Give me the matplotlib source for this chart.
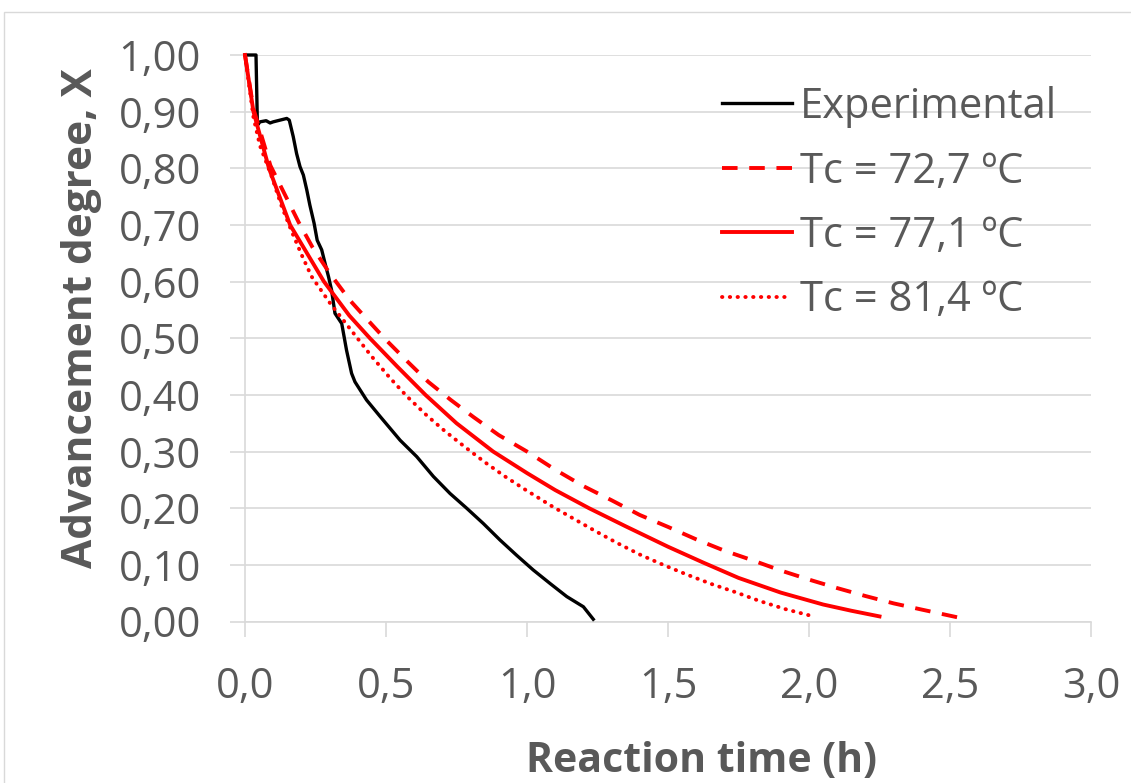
import matplotlib
matplotlib.use("Agg")
import matplotlib.pyplot as plt
from matplotlib.patches import Rectangle

# Experimental conversion curve
exp_t = [0.0, 0.039, 0.044, 0.053, 0.075, 0.089, 0.100, 0.124, 0.148, 0.157,
         0.171, 0.183, 0.195, 0.207, 0.219, 0.230, 0.245, 0.256, 0.272, 0.284,
         0.296, 0.307, 0.319, 0.343, 0.360, 0.378, 0.390, 0.431, 0.479, 0.550,
         0.609, 0.668, 0.727, 0.786, 0.845, 0.904, 0.963, 1.022, 1.082, 1.141,
         1.200, 1.235]
exp_x = [1.000, 1.000, 0.876, 0.882, 0.884, 0.880, 0.882, 0.885, 0.888, 0.885,
         0.856, 0.826, 0.803, 0.788, 0.762, 0.735, 0.703, 0.673, 0.656, 0.632,
         0.609, 0.585, 0.544, 0.526, 0.479, 0.438, 0.423, 0.391, 0.362, 0.320,
         0.291, 0.256, 0.226, 0.200, 0.173, 0.144, 0.117, 0.091, 0.067, 0.044,
         0.026, 0.004]

# Model, Tc = 72,7 ºC
t_727 = [0.0, 0.03, 0.09, 0.15, 0.19, 0.24, 0.30, 0.372, 0.43, 0.50, 0.58,
         0.65, 0.73, 0.81, 0.90, 1.00, 1.10, 1.20, 1.30, 1.40, 1.50, 1.60,
         1.70, 1.80, 1.90, 2.00, 2.10, 2.20, 2.30, 2.40, 2.53]
x_727 = [1.0, 0.905, 0.805, 0.745, 0.705, 0.660, 0.615, 0.567, 0.535, 0.497,
         0.457, 0.423, 0.391, 0.361, 0.329, 0.300, 0.268, 0.239, 0.214, 0.188,
         0.167, 0.145, 0.125, 0.108, 0.090, 0.074, 0.059, 0.045, 0.032, 0.021,
         0.007]

# Model, Tc = 77,1 ºC
t_771 = [0.0, 0.03, 0.085, 0.16, 0.28, 0.37, 0.443, 0.54, 0.64, 0.75, 0.88,
         1.00, 1.10, 1.22, 1.35, 1.50, 1.625, 1.75, 1.90, 2.05, 2.15, 2.25]
x_771 = [1.0, 0.90, 0.80, 0.70, 0.60, 0.54, 0.50, 0.45, 0.40, 0.35, 0.30,
         0.262, 0.232, 0.200, 0.168, 0.132, 0.104, 0.077, 0.051, 0.030, 0.019,
         0.009]

# Model, Tc = 81,4 ºC
t_814 = [0.0, 0.03, 0.053, 0.095, 0.13, 0.166, 0.201, 0.236, 0.30, 0.372,
         0.449, 0.514, 0.573, 0.644, 0.709, 0.78, 0.851, 0.922, 0.993, 1.09,
         1.188, 1.241, 1.318, 1.401, 1.483, 1.566, 1.655, 1.738, 1.826, 1.915,
         2.00]
x_814 = [1.0, 0.89, 0.84, 0.785, 0.733, 0.688, 0.647, 0.609, 0.563, 0.517,
         0.468, 0.430, 0.398, 0.364, 0.336, 0.308, 0.281, 0.256, 0.233, 0.203,
         0.175, 0.160, 0.139, 0.118, 0.100, 0.083, 0.066, 0.052, 0.036, 0.022,
         0.011]

x_ticks = [0.0, 0.5, 1.0, 1.5, 2.0, 2.5, 3.0]
x_ticklabels = ["0,0", "0,5", "1,0", "1,5", "2,0", "2,5", "3,0"]
y_ticks = [0.0, 0.1, 0.2, 0.3, 0.4, 0.5, 0.6, 0.7, 0.8, 0.9, 1.0]
y_ticklabels = ["0,00", "0,10", "0,20", "0,30", "0,40", "0,50", "0,60",
                "0,70", "0,80", "0,90", "1,00"]
labels = ["Experimental", "Tc = 72,7 ºC", "Tc = 77,1 ºC", "Tc = 81,4 ºC"]

W, H = 1131, 783
FONT = ["Open Sans", "DejaVu Sans"]
TXT = "#595959"
GRID = "#d9d9d9"
FS = 30

plt.rcParams["font.family"] = FONT
fig = plt.figure(figsize=(W / 100, H / 100), dpi=100)

# chart-area border
fig.add_artist(Rectangle((3.5 / W, -0.1), 1.2, (H - 12) / H + 0.1,
                         transform=fig.transFigure, fill=False,
                         edgecolor=GRID, lw=1.0))

left, right, top, bottom = 245, 1091, 55, 621.5
ax = fig.add_axes([left / W, (H - bottom) / H, (right - left) / W, (bottom - top) / H])
ax.set_xlim(0, 3)
ax.set_ylim(0, 1)

ax.plot(exp_t, exp_x, color="black", lw=2.4, label=labels[0], clip_on=False,
        zorder=3)
ax.plot(t_727, x_727, color="#ff0000", lw=2.8, label=labels[1], clip_on=False,
        dashes=(4, 3), dash_capstyle="butt", zorder=4)
ax.plot(t_771, x_771, color="#ff0000", lw=2.8, label=labels[2], clip_on=False,
        zorder=4)
ax.plot(t_814, x_814, color="#ff0000", lw=2.8, label=labels[3], clip_on=False,
        dashes=(0.1, 1.9), dash_capstyle="round", zorder=4)

ax.set_xticks(x_ticks)
ax.set_xticklabels(x_ticklabels)
ax.set_yticks(y_ticks)
ax.set_yticklabels(y_ticklabels)
ax.tick_params(axis="both", length=10.8, width=1.2, color=GRID, labelsize=FS,
               labelcolor=TXT, direction="out")
ax.tick_params(axis="y", pad=21)
ax.tick_params(axis="x", pad=21)
ax.grid(axis="y", color=GRID, lw=1.2)
ax.set_axisbelow(True)
for s in ("top", "right"):
    ax.spines[s].set_visible(False)
for s in ("left", "bottom"):
    ax.spines[s].set_color(GRID)
    ax.spines[s].set_linewidth(1.2)

fig.text(82 / W, 1 - 318 / H, "Advancement degree, X", rotation=90,
         ha="center", va="center", fontsize=30.5, fontweight="bold", color=TXT)
fig.text(701 / W, 1 - 772 / H, "Reaction time (h)", ha="center",
         va="baseline", fontsize=29.5, fontweight="bold", color=TXT)

leg = ax.legend(loc="upper left", bbox_to_anchor=(722 / W, 1 - 86 / H),
                bbox_transform=fig.transFigure, frameon=False, fontsize=FS,
                handlelength=1.68, handletextpad=0.2, labelspacing=0.54,
                borderpad=0, borderaxespad=0)
for t in leg.get_texts():
    t.set_color(TXT)

fig.savefig("out.png", dpi=100)
